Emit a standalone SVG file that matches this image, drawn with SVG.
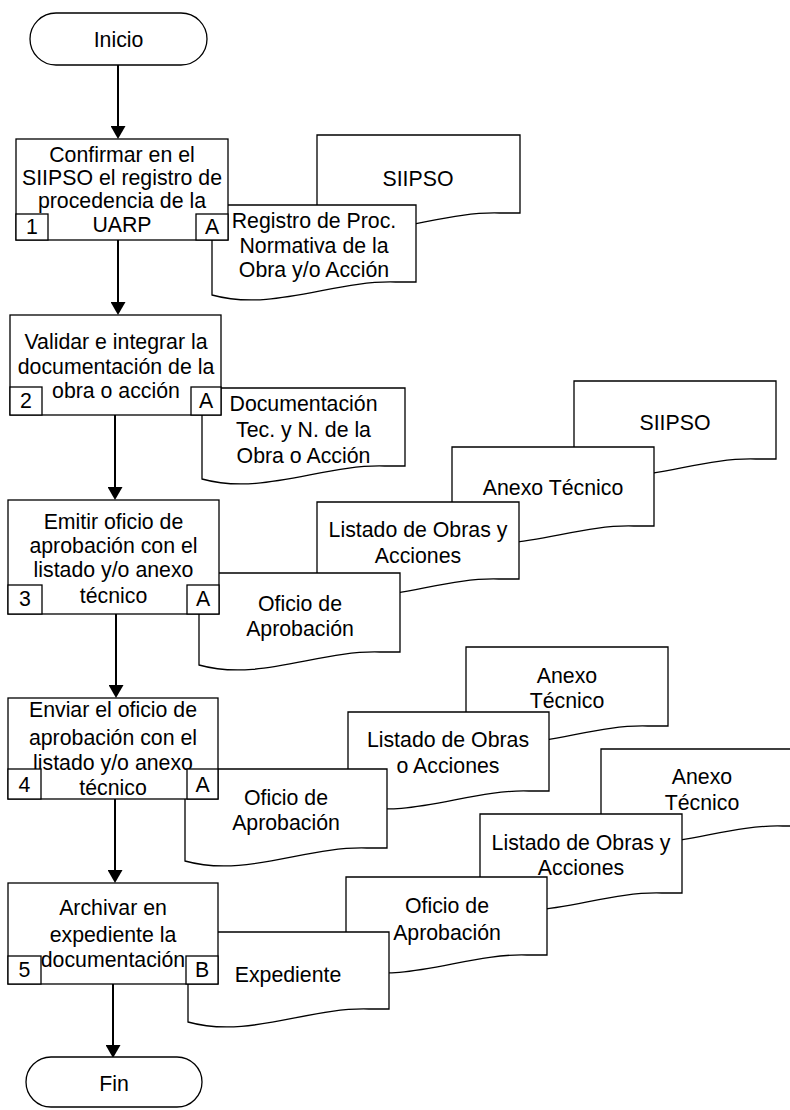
<svg xmlns="http://www.w3.org/2000/svg" width="790" height="1110" viewBox="0 0 790 1110">
<style>
.s{fill:#fff;stroke:#000;stroke-width:1.3}
.t{font-family:"Liberation Sans",Arial,sans-serif;font-size:21.3px;fill:#000;text-anchor:middle}
.c{stroke:#000;stroke-width:2;fill:none}
</style>
<defs>
<marker id="ah" markerUnits="userSpaceOnUse" markerWidth="15" markerHeight="15" refX="11" refY="7.5" orient="auto">
<path d="M0,0 L13,7.5 L0,15 Z" fill="#000"/>
</marker>
</defs>
<rect width="790" height="1110" fill="#fff"/>

<g id="connectors">
<line class="c" x1="118" y1="65" x2="118" y2="137" marker-end="url(#ah)"/>
<line class="c" x1="118" y1="240" x2="118" y2="313" marker-end="url(#ah)"/>
<line class="c" x1="115" y1="415" x2="115" y2="498" marker-end="url(#ah)"/>
<line class="c" x1="116" y1="614" x2="116" y2="696" marker-end="url(#ah)"/>
<line class="c" x1="115" y1="799" x2="115" y2="881" marker-end="url(#ah)"/>
<line class="c" x1="113" y1="984" x2="113" y2="1056" marker-end="url(#ah)"/>
</g>

<g id="inicio">
<rect class="s" x="30" y="13" width="177" height="52" rx="26"/>
<text class="t" x="118.5" y="47">Inicio</text>
</g>

<!-- group 1 -->
<g id="doc1-siipso">
<path class="s" d="M317,135 H520 V213 H499.7 C438.8,211 377.9,243 317,226 Z"/>
<text class="t" x="418" y="186">SIIPSO</text>
</g>
<g id="doc1-registro">
<path class="s" d="M212,205 H416 V282 H395.6 C334.4,280 273.2,312 212,295 Z"/>
<text class="t" x="314" y="228">Registro de Proc.</text>
<text class="t" x="314" y="253">Normativa de la</text>
<text class="t" x="314" y="277">Obra y/o Acción</text>
</g>
<g id="step1">
<rect class="s" x="16" y="139" width="212" height="101"/>
<text class="t" x="122" y="162">Confirmar en el</text>
<text class="t" x="122" y="185">SIIPSO el registro de</text>
<text class="t" x="122" y="208">procedencia de la</text>
<text class="t" x="122" y="232">UARP</text>
<rect class="s" x="16" y="214" width="32" height="26"/>
<text class="t" x="32" y="234">1</text>
<rect class="s" x="196" y="214" width="32" height="26"/>
<text class="t" x="212" y="234">A</text>
</g>

<!-- group 2 -->
<g id="doc2-documentacion">
<path class="s" d="M202,388 H405 V466 H384.7 C323.8,464 262.9,496 202,479 Z"/>
<text class="t" x="303.5" y="411">Documentación</text>
<text class="t" x="303.5" y="437">Tec. y N. de la</text>
<text class="t" x="303.5" y="463">Obra o Acción</text>
</g>
<g id="step2">
<rect class="s" x="10" y="315" width="211" height="100"/>
<text class="t" x="116" y="349">Validar e integrar la</text>
<text class="t" x="116" y="374">documentación de la</text>
<text class="t" x="116" y="398">obra o acción</text>
<rect class="s" x="10" y="387" width="32" height="28"/>
<text class="t" x="26" y="408">2</text>
<rect class="s" x="191" y="387" width="30" height="28"/>
<text class="t" x="206" y="408">A</text>
</g>

<!-- group 3 -->
<g id="doc3-siipso">
<path class="s" d="M574,381 H776 V459 H755.8 C695.2,457 634.6,489 574,472 Z"/>
<text class="t" x="675" y="430">SIIPSO</text>
</g>
<g id="doc3-anexo">
<path class="s" d="M452,447 H654 V526 H633.8 C573.2,524 512.6,556 452,539 Z"/>
<text class="t" x="553" y="495">Anexo Técnico</text>
</g>
<g id="doc3-listado">
<path class="s" d="M317,502 H519 V579 H498.8 C438.2,577 377.6,609 317,592 Z"/>
<text class="t" x="418" y="537">Listado de Obras y</text>
<text class="t" x="418" y="563">Acciones</text>
</g>
<g id="doc3-oficio">
<path class="s" d="M199,573 H400 V652 H379.9 C319.6,650 259.3,682 199,665 Z"/>
<text class="t" x="300" y="611">Oficio de</text>
<text class="t" x="300" y="636">Aprobación</text>
</g>
<g id="step3">
<rect class="s" x="8" y="500" width="211" height="114"/>
<text class="t" x="113.5" y="529">Emitir oficio de</text>
<text class="t" x="113.5" y="553">aprobación con el</text>
<text class="t" x="113.5" y="577">listado y/o anexo</text>
<text class="t" x="113.5" y="603">técnico</text>
<rect class="s" x="8" y="585" width="34" height="29"/>
<text class="t" x="25" y="606">3</text>
<rect class="s" x="187" y="585" width="32" height="29"/>
<text class="t" x="203" y="606">A</text>
</g>

<!-- group 4 -->
<g id="doc4-anexo">
<path class="s" d="M466,647 H668 V726 H647.8 C587.2,724 526.6,756 466,739 Z"/>
<text class="t" x="567" y="683">Anexo</text>
<text class="t" x="567" y="708">Técnico</text>
</g>
<g id="doc4-listado">
<path class="s" d="M348,712 H549 V791 H528.9 C468.6,789 408.3,821 348,804 Z"/>
<text class="t" x="448" y="747">Listado de Obras</text>
<text class="t" x="448" y="773">o Acciones</text>
</g>
<g id="doc4-oficio">
<path class="s" d="M185,769 H387 V848 H366.8 C306.2,846 245.6,878 185,861 Z"/>
<text class="t" x="286" y="805">Oficio de</text>
<text class="t" x="286" y="830">Aprobación</text>
</g>
<g id="step4">
<rect class="s" x="8" y="698" width="210" height="101"/>
<text class="t" x="113" y="717">Enviar el oficio de</text>
<text class="t" x="113" y="745">aprobación con el</text>
<text class="t" x="113" y="770">listado y/o anexo</text>
<text class="t" x="113" y="795">técnico</text>
<rect class="s" x="8" y="769" width="33" height="30"/>
<text class="t" x="24.5" y="792">4</text>
<rect class="s" x="187" y="769" width="31" height="30"/>
<text class="t" x="202.5" y="792">A</text>
</g>

<!-- group 5 -->
<g id="doc5-anexo">
<path class="s" d="M601,749 H803 V826 H782.8 C722.2,824 661.6,856 601,839 Z"/>
<text class="t" x="702" y="784">Anexo</text>
<text class="t" x="702" y="810">Técnico</text>
</g>
<g id="doc5-listado">
<path class="s" d="M480,814 H682 V893 H661.8 C601.2,891 540.6,923 480,906 Z"/>
<text class="t" x="581" y="850">Listado de Obras y</text>
<text class="t" x="581" y="875">Acciones</text>
</g>
<g id="doc5-oficio">
<path class="s" d="M346,877 H547 V955 H526.9 C466.6,953 406.3,985 346,968 Z"/>
<text class="t" x="447" y="913">Oficio de</text>
<text class="t" x="447" y="940">Aprobación</text>
</g>
<g id="doc5-expediente">
<path class="s" d="M188,932 H389 V1009 H368.9 C308.6,1007 248.3,1039 188,1022 Z"/>
<text class="t" x="288" y="982">Expediente</text>
</g>
<g id="step5">
<rect class="s" x="8" y="883" width="210" height="101"/>
<text class="t" x="113" y="915">Archivar en</text>
<text class="t" x="113" y="942">expediente la</text>
<text class="t" x="113" y="967">documentación</text>
<rect class="s" x="8" y="956" width="33" height="28"/>
<text class="t" x="24.5" y="977">5</text>
<rect class="s" x="186" y="956" width="32" height="28"/>
<text class="t" x="202" y="977">B</text>
</g>

<g id="fin">
<rect class="s" x="26" y="1057" width="176" height="50" rx="25"/>
<text class="t" x="114" y="1091">Fin</text>
</g>
</svg>
